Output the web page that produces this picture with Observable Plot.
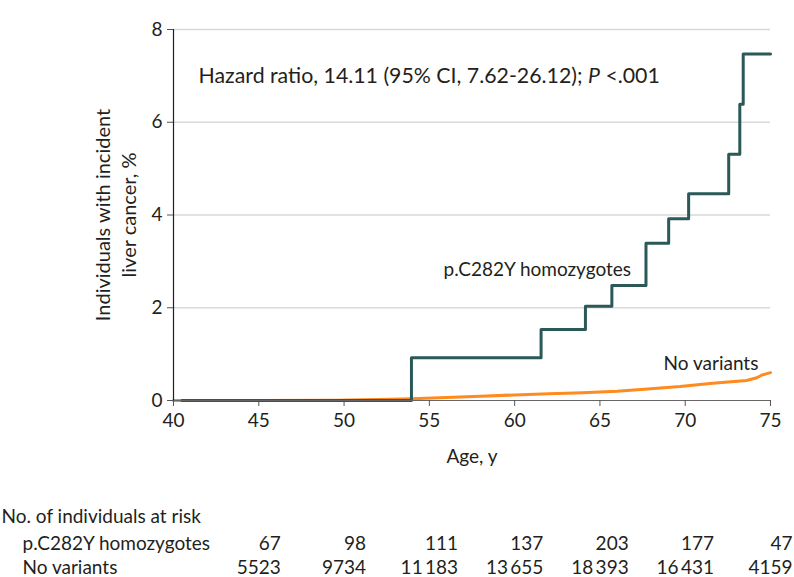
<!DOCTYPE html>
<html><head><meta charset="utf-8">
<script src="https://cdn.jsdelivr.net/npm/d3@7"></script>
<script src="https://cdn.jsdelivr.net/npm/@observablehq/plot@0.6"></script>
<style>
body{margin:0;background:#fff;}
</style></head><body><div id="chart"></div>
<script>
// p.C282Y homozygotes: Kaplan–Meier step curve (age, cumulative %)
const c282yAges = [40.5, 53.95, 61.55, 64.15, 65.7, 67.7, 69.03, 70.2, 72.55, 73.2, 73.4, 75];
const c282yPct  = [0, 0.92, 1.53, 2.03, 2.48, 3.39, 3.92, 4.46, 5.31, 6.39, 7.47, 7.47];
// No variants
const noneAges = [40, 45, 49.5, 52, 54, 56, 58, 60, 62, 64, 66, 67.8, 69.7, 71.6, 73.6, 74.2, 74.5, 75];
const nonePct  = [0, 0, 0.005, 0.02, 0.04, 0.065, 0.09, 0.12, 0.145, 0.165, 0.2, 0.25, 0.3, 0.37, 0.43, 0.49, 0.55, 0.6];
// axes
const xTicks = [40, 45, 50, 55, 60, 65, 70, 75];
const yTicks = [0, 2, 4, 6, 8];
const gridY = [2, 4, 6, 8];
// number at risk table
const riskAges = [45, 50, 55, 60, 65, 70, 75];
const riskC282Y = [67, 98, 111, 137, 203, 177, 47];
const riskNone = [5523, 9734, 11183, 13655, 18393, 16431, 4159];
// texts
const hazardText = "Hazard ratio, 14.11 (95% CI, 7.62-26.12); P <.001";
const yLabel = "Individuals with incident\nliver cancer, %";
const xLabel = "Age, y";
const tableTitle = "No. of individuals at risk";
const rowLabels = ["p.C282Y homozygotes", "No variants"];

const teal = "#2a5957";
const orange = "#ff8a1e";
const ink = "#231f20";

const c282yData = c282yAges.map((a, i) => ({age: a, pct: c282yPct[i]}));
const noneData = noneAges.map((a, i) => ({age: a, pct: nonePct[i]}));

function fmt(n) {
  const s = String(n);
  return s.length > 4 ? s.slice(0, s.length - 3) + "\u2009" + s.slice(-3) : s;
}
// pad top row with figure spaces so both rows share the same right edge
function padTo(n, ref) {
  const s = fmt(n), r = fmt(ref);
  let pad = "";
  for (let k = 0; k < r.length - s.length; k++) pad += (r[k] === "\u2009" ? "\u2009" : "\u2007");
  return pad + s;
}

const font = "Lato, 'Open Sans', sans-serif";

const chart = Plot.plot({
  width: 794, height: 577,
  marginTop: 29, marginBottom: 177, marginLeft: 173, marginRight: 24,
  style: {fontFamily: font, fontSize: "19px", color: ink, background: "#fff", overflow: "visible"},
  x: {domain: [40, 75], label: null},
  y: {domain: [0, 8], label: null},
  marks: [
    Plot.ruleY(gridY, {stroke: "#d9d9d9", strokeWidth: 1.5}),
    Plot.line(noneData, {x: "age", y: "pct", stroke: orange, strokeWidth: 3}),
    Plot.line(c282yData, {x: "age", y: "pct", stroke: teal, strokeWidth: 3, curve: "step-after"}),
    Plot.ruleY([0], {stroke: "#666", strokeWidth: 1.2}),
    Plot.ruleX([40], {stroke: ink, strokeWidth: 1.2}),
    Plot.axisX({ticks: xTicks, tickSize: 6, tickPadding: 7, fontSize: 19, label: null, stroke: "#555", fill: ink}),
    Plot.axisY({ticks: yTicks, tickSize: 6, tickPadding: 5, fontSize: 19, label: null, stroke: "#555", fill: ink}),
    Plot.text([yLabel], {frameAnchor: "left", rotate: -90, dx: -59, textAnchor: "middle", lineAnchor: "middle", lineHeight: 1.3, fontSize: 20, fill: ink}),
    Plot.text([xLabel], {frameAnchor: "bottom", dy: 62, fontSize: 19, fill: ink}),
    Plot.text([hazardText], {x: 41.47, y: 7.0, textAnchor: "start", fontSize: 21.3, fill: ink}),
    Plot.text([rowLabels[0]], {x: 55.83, y: 2.81, textAnchor: "start", fontSize: 19, fill: ink}),
    Plot.text([rowLabels[1]], {x: 68.73, y: 0.78, textAnchor: "start", fontSize: 19, fill: ink}),
    // risk table
    Plot.text([tableTitle], {frameAnchor: "bottom-left", dx: -172, dy: 122, textAnchor: "start", fontSize: 19, fill: ink}),
    Plot.text([rowLabels[0]], {frameAnchor: "bottom-left", dx: -151, dy: 149, textAnchor: "start", fontSize: 19, fill: ink}),
    Plot.text([rowLabels[1]], {frameAnchor: "bottom-left", dx: -151, dy: 173, textAnchor: "start", fontSize: 19, fill: ink}),
    Plot.text(riskAges, {x: d => d, text: (d, i) => padTo(riskC282Y[i], riskNone[i]), frameAnchor: "bottom", dy: 149, fontSize: 19, fill: ink}),
    Plot.text(riskAges, {x: d => d, text: (d, i) => fmt(riskNone[i]), frameAnchor: "bottom", dy: 173, fontSize: 19, fill: ink})
  ]
});
document.getElementById("chart").appendChild(chart);

// italic P in the hazard ratio annotation
chart.querySelectorAll("text").forEach(t => {
  if (t.textContent === hazardText) {
    const parts = hazardText.split("P <");
    t.textContent = "";
    const ns = "http://www.w3.org/2000/svg";
    const a = document.createElementNS(ns, "tspan"); a.textContent = parts[0];
    const b = document.createElementNS(ns, "tspan"); b.textContent = "P"; b.setAttribute("font-style", "italic");
    const c = document.createElementNS(ns, "tspan"); c.textContent = " <" + parts[1];
    t.append(a, b, c);
  }
});
</script>
</body></html>
